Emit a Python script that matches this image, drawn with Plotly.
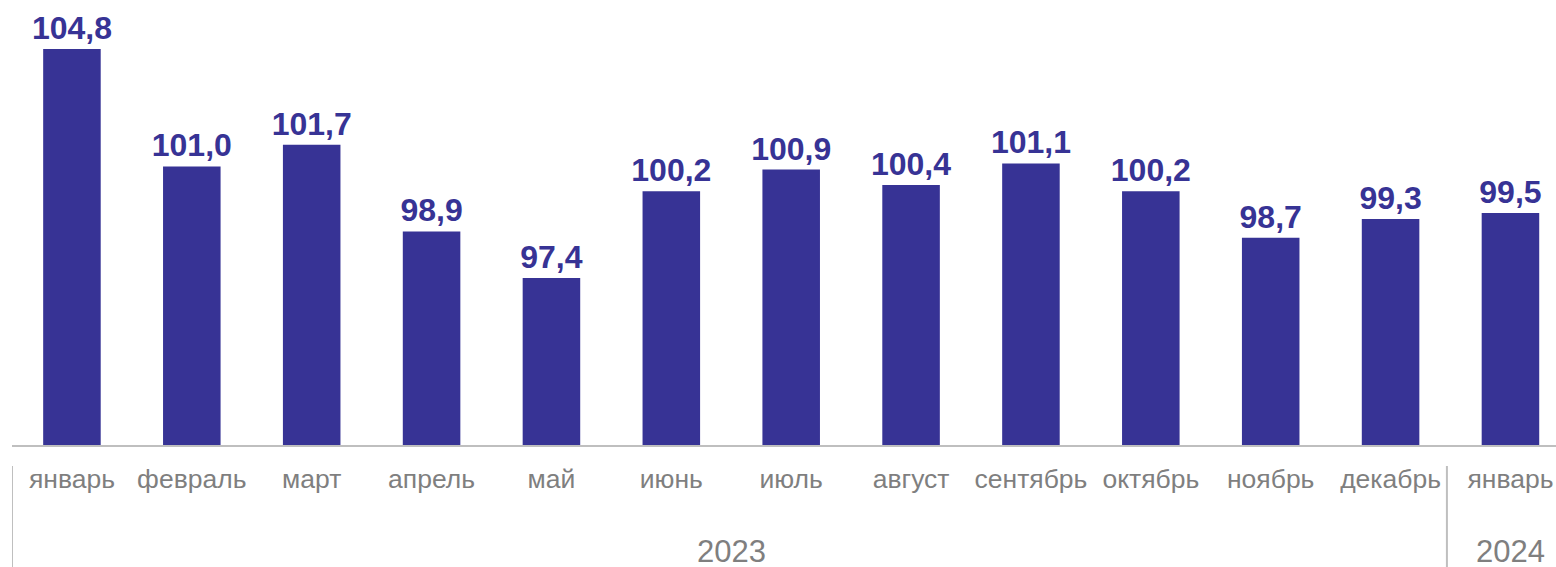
import plotly.graph_objects as go

months = ["январь", "февраль", "март", "апрель", "май", "июнь", "июль",
          "август", "сентябрь", "октябрь", "ноябрь", "декабрь", "январь"]
values = [104.8, 101.0, 101.7, 98.9, 97.4, 100.2, 100.9, 100.4, 101.1, 100.2, 98.7, 99.3, 99.5]
labels = [f"{v:.1f}".replace(".", ",") for v in values]
years = ["2023", "2024"]
year_centers = [5.5, 12]
dividers = [-0.5, 11.47]

bar_color = "#373395"
grey = "#7f7f7f"
line_grey = "#bfbfbf"

fig = go.Figure(go.Bar(
    x=list(range(len(months))), y=values,
    marker=dict(color=bar_color, line=dict(width=0)),
    text=labels, textposition="outside", cliponaxis=False,
    constraintext="none",
    textfont=dict(family="Liberation Sans, Arial", size=32, color=bar_color, weight="bold"),
    width=0.48,
))

H_PLOT = 445.0
for x in dividers:
    fig.add_shape(type="line", xref="x", yref="paper",
                  x0=x, x1=x, y0=-(466 - 445) / H_PLOT, y1=-(567 - 445) / H_PLOT,
                  line=dict(color=line_grey, width=2))

for yname, xc in zip(years, year_centers):
    fig.add_annotation(x=xc, xref="x", y=-(551 - 445) / H_PLOT, yref="paper",
                       text=yname, showarrow=False,
                       font=dict(family="Liberation Sans, Arial", size=31, color=grey),
                       yanchor="middle", borderpad=0)

fig.update_layout(
    width=1556, height=567,
    margin=dict(l=12, r=0, t=0, b=122),
    plot_bgcolor="white", paper_bgcolor="white",
    showlegend=False,
    xaxis=dict(range=[-0.5, 12.38], tickmode="array",
               tickvals=list(range(len(months))), ticktext=months,
               showline=True, linecolor=line_grey, linewidth=1.5,
               ticks="outside", ticklen=9, tickcolor="rgba(0,0,0,0)",
               ticklabeloverflow="allow",
               tickfont=dict(family="Liberation Sans, Arial", size=26.5, color=grey),
               showgrid=False, zeroline=False),
    yaxis=dict(range=[92, 106.38], visible=False, showgrid=False, zeroline=False),
)

fig.write_html("out.html", config={"displayModeBar": False},
               post_script="document.body.style.margin='0';document.body.style.overflow='hidden';")
